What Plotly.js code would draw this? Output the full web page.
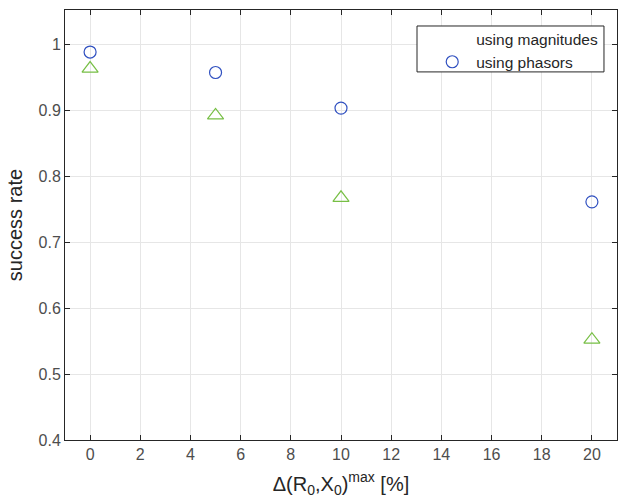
<!DOCTYPE html>
<html>
<head>
<meta charset="utf-8">
<script src="https://cdn.plot.ly/plotly-3.0.1.min.js"></script>
<style>html,body{margin:0;padding:0;background:#fff;}</style>
</head>
<body>
<div id="chart" style="width:618px;height:502px;"></div>
<script>
const deltaMax = [0, 5, 10, 20];
const magnitudesRate = [0.963, 0.892, 0.767, 0.552];
const phasorsRate = [0.988, 0.957, 0.903, 0.761];
const xTicks = [0, 2, 4, 6, 8, 10, 12, 14, 16, 18, 20];
const yTicks = [0.4, 0.5, 0.6, 0.7, 0.8, 0.9, 1];

const font = 'Liberation Sans, Arial, Helvetica, sans-serif';
const axisCol = '#262626';
const tickCol = '#4d4d4d';

const traces = [
  {x: deltaMax, y: magnitudesRate, mode: 'markers', name: 'using magnitudes', showlegend: false,
   marker: {symbol: 'triangle-up-open', size: 14, color: '#77bf45', line: {width: 1.2}}},
  {x: [null], y: [null], mode: 'markers', name: 'using magnitudes',
   marker: {symbol: 'circle-open', size: 11, color: 'rgba(0,0,0,0)'}},
  {x: deltaMax, y: phasorsRate, mode: 'markers', name: 'using phasors',
   marker: {symbol: 'circle-open', size: 12, color: '#3050c0', line: {width: 1.2}}}
];

const layout = {
  width: 618, height: 502,
  margin: {l: 65, r: 1, t: 10, b: 62},
  paper_bgcolor: '#fff', plot_bgcolor: '#fff',
  font: {family: font, size: 16, color: tickCol},
  showlegend: true,
  legend: {x: 0.658, y: 0.972, xanchor: 'left', yanchor: 'top', bgcolor: 'rgba(0,0,0,0)',
           itemwidth: 38,
           borderwidth: 0, font: {family: font, size: 15.5, color: '#262626'}, tracegroupgap: 0},
  xaxis: {range: [-1, 21], tickvals: xTicks, ticktext: xTicks.map(String),
          showgrid: true, gridcolor: '#e6e6e6', zeroline: false,
          showline: true, linecolor: axisCol, linewidth: 1, mirror: 'ticks',
          ticks: 'inside', ticklen: 5, tickcolor: axisCol,
          tickfont: {family: font, size: 16, color: tickCol},
          title: {text: 'Δ(R<sub>0</sub>,X<sub>0</sub>)<sup>max</sup> [%]', standoff: 14,
                  font: {family: font, size: 20, color: axisCol}}},
  yaxis: {range: [0.4, 1.0517], tickvals: yTicks, ticktext: ['0.4','0.5','0.6','0.7','0.8','0.9','1'],
          showgrid: true, gridcolor: '#e6e6e6', zeroline: false,
          showline: true, linecolor: axisCol, linewidth: 1, mirror: 'ticks',
          ticks: 'inside', ticklen: 5, tickcolor: axisCol,
          tickfont: {family: font, size: 16, color: tickCol},
          title: {text: 'success rate', standoff: 10,
                  font: {family: font, size: 20, color: axisCol}}},
  shapes: [{type: 'rect', xref: 'paper', yref: 'paper', x0: 0.6377, x1: 0.9764, y0: 0.856, y1: 0.9628,
            fillcolor: '#fff', line: {color: '#262626', width: 1}, layer: 'above'}]
};

Plotly.newPlot('chart', traces, layout, {displayModeBar: false, staticPlot: true});
</script>
</body>
</html>
